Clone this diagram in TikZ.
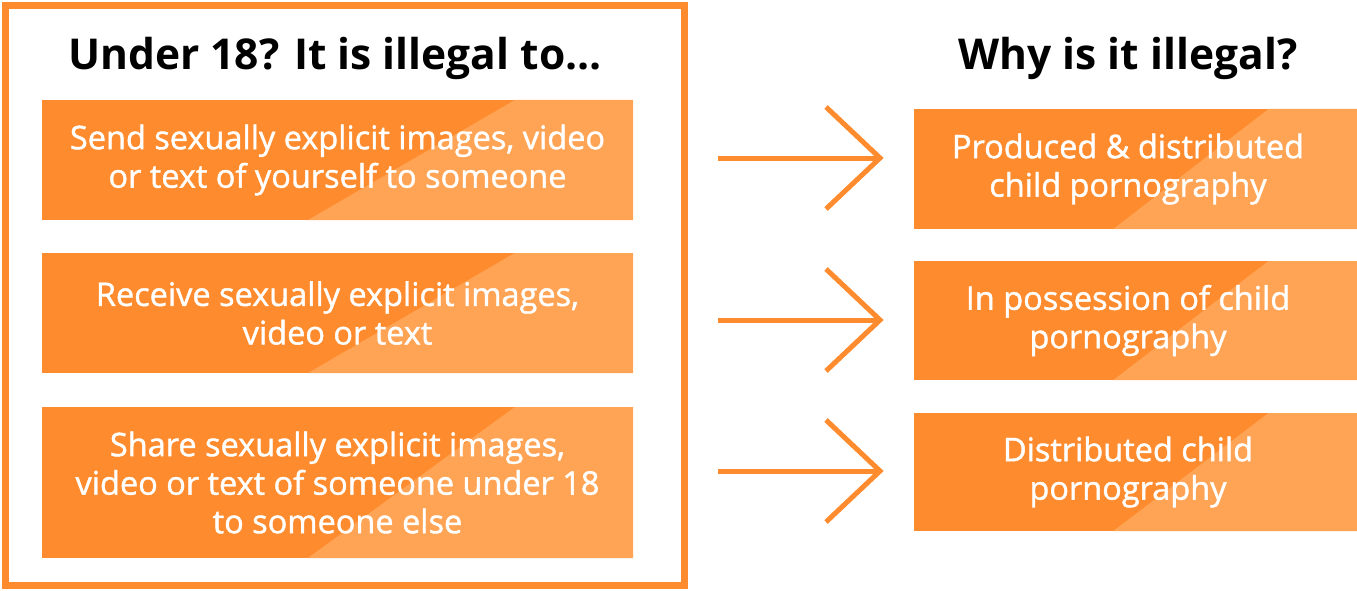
\documentclass[tikz,border=0pt]{standalone}
\usepackage{fontspec}
\setmainfont{Open Sans}
\newfontfamily\semib{Open Sans}[FakeBold=1.3]
\usetikzlibrary{calc}
\definecolor{org}{HTML}{FE8B2D}
\definecolor{orgL}{HTML}{FFA455}
\tikzset{
  obox/.style={fill=org, inner sep=0pt,
    path picture={\fill[orgL]
      ($(path picture bounding box.north west)!0.8!(path picture bounding box.north east)$)
      -- (path picture bounding box.north east)
      -- (path picture bounding box.south east)
      -- ($(path picture bounding box.south west)!0.45!(path picture bounding box.south east)$)
      -- cycle;}},
  btxt/.style={text=white, align=center, inner sep=0pt,
    font=\semib\fontsize{32.5}{38.5}\selectfont},
  lbox/.style={obox, btxt, minimum width=591pt},
  rbox/.style={obox, minimum width=443pt},
  ttl/.style={anchor=base, font=\bfseries\fontsize{42.5}{50}\selectfont, text=black, inner sep=0pt},
  arr/.style={draw=org, line width=5pt},
}
\begin{document}
\begin{tikzpicture}[x=1pt,y=1pt]
\useasboundingbox (0,0) rectangle (1357,-591);
\node[draw=org, line width=7pt, minimum width=679pt, minimum height=580pt, inner sep=0pt] (frame) at (345,-295.5) {};
\node[ttl] (t1) at (335,-70) {Under 18? It is illegal to...};
\node[ttl] (t2) at (1128,-70) {Why is it illegal?};
\node[lbox, minimum height=120pt] (l1) at (337.5,-160) {Send sexually explicit images, video\\or text of yourself to someone};
\node[lbox, minimum height=120pt] (l2) at (337.5,-313) {Receive sexually explicit images,\\video or text};
\node[lbox, minimum height=151pt] (l3) at (337.5,-482.5) {Share sexually explicit images,\\video or text of someone under 18\\to someone else};
\node[rbox, minimum height=120pt] (r1) at (1135.5,-169) {};
\node[rbox, minimum height=119pt] (r2) at (1135.5,-320.5) {};
\node[rbox, minimum height=118pt] (r3) at (1135.5,-472) {};
\node[btxt] (r1t) at ($(r1)+(-7.5,0)$) {Produced \& distributed\\child pornography};
\node[btxt] (r2t) at ($(r2)+(-7.5,0)$) {In possession of child\\pornography};
\node[btxt] (r3t) at ($(r3)+(-7.5,0)$) {Distributed child\\pornography};
\foreach \i/\y in {1/158,2/320,3/471}{
  \coordinate (s\i) at (718,-\y);
  \coordinate (e\i) at (877,-\y);
  \coordinate (tip\i) at (880,-\y);
  \coordinate (ua\i) at (826,-\y+51);
  \coordinate (la\i) at (826,-\y-51);
  \draw[arr] (s\i) -- (e\i);
  \draw[arr, miter limit=4] (ua\i) -- (tip\i) -- (la\i);
}
\end{tikzpicture}
\end{document}
